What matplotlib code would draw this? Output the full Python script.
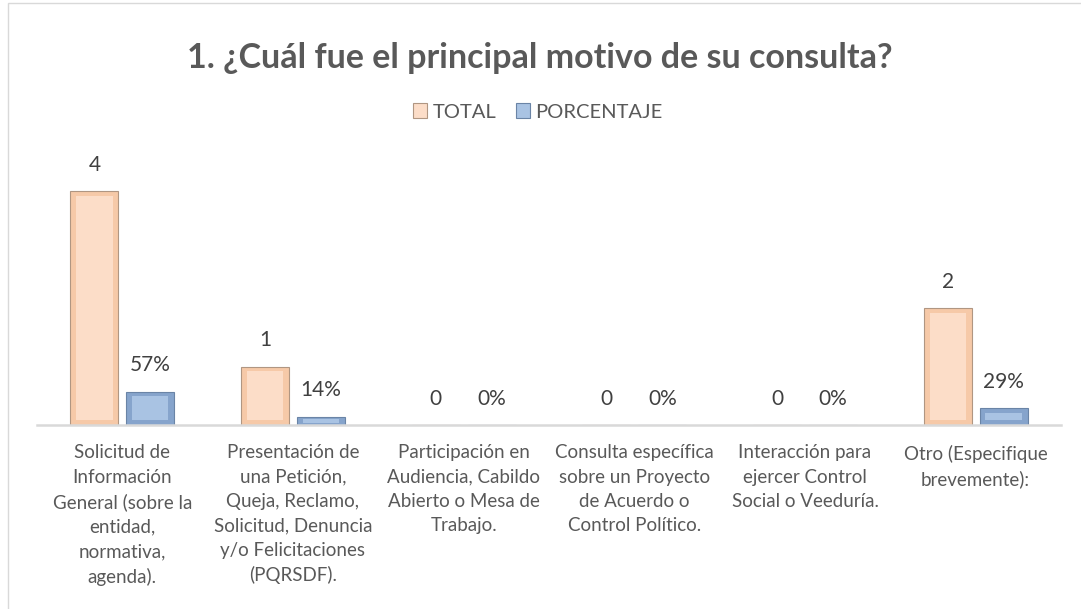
import matplotlib
matplotlib.use("Agg")
import matplotlib.pyplot as plt
from matplotlib.patches import Rectangle
import numpy as np

categories = [
    "Solicitud de\nInformación\nGeneral (sobre la\nentidad,\nnormativa,\nagenda).",
    "Presentación de\nuna Petición,\nQueja, Reclamo,\nSolicitud, Denuncia\ny/o Felicitaciones\n(PQRSDF).",
    "Participación en\nAudiencia, Cabildo\nAbierto o Mesa de\nTrabajo.",
    "Consulta específica\nsobre un Proyecto\nde Acuerdo o\nControl Político.",
    "Interacción para\nejercer Control\nSocial o Veeduría.",
    "Otro (Especifique\nbrevemente):",
]
total = [4, 1, 0, 0, 0, 2]
porcentaje = [0.57, 0.14, 0.0, 0.0, 0.0, 0.29]
porcentaje_labels = ["57%", "14%", "0%", "0%", "0%", "29%"]
series_names = ["TOTAL", "PORCENTAJE"]

plt.rcParams['font.family'] = ['Lato', 'DejaVu Sans']

W, H = 1081, 609
fig = plt.figure(figsize=(W / 100, H / 100), dpi=100)
fig.patch.set_facecolor("white")

# chart frame (left and top edges visible)
fig.add_artist(Rectangle((8 / W, -0.05), 1.2, (H - 3) / H + 0.05, transform=fig.transFigure,
                         fill=False, edgecolor="#D9D9D9", linewidth=1.0))

left, right_px = 37, 1061
base_px, top_px = 425, 160
ax = fig.add_axes([left / W, (H - base_px) / H, (right_px - left) / W, (base_px - top_px) / H])
ymax = 4 * (base_px - top_px) / (425 - 191)
ax.set_xlim(-0.5, len(categories) - 0.5)
ax.set_ylim(0, ymax)

x = np.arange(len(categories))
bw = 0.28
off = 0.164

peach_outer, peach_inner, peach_edge = "#F6C9A8", "#FCDDC8", "#B09682"
blue_outer, blue_inner, blue_edge = "#86A4CC", "#A9C3E3", "#6A84A6"

def bevel_bars(xs, vals, outer, inner, edge):
    ax.bar(xs, vals, width=bw, color=outer, edgecolor=edge, linewidth=0.8, zorder=2)
    ins_x = bw * 0.12
    ins_y = ymax * 0.018
    for xi, v in zip(xs, vals):
        if v <= 0:
            continue
        iy = min(ins_y, v * 0.3)
        ax.bar(xi, v - 2 * iy, bottom=iy, width=bw - 2 * ins_x, color=inner,
               linewidth=0, zorder=3)

bevel_bars(x - off, total, peach_outer, peach_inner, peach_edge)
bevel_bars(x + off, porcentaje, blue_outer, blue_inner, blue_edge)

lab_color = "#404040"
for xi, v in zip(x, total):
    ax.annotate(str(v), (xi - off, v), xytext=(0, 19), textcoords="offset points",
                ha="center", va="center", fontsize=15, color=lab_color)
for xi, v, s in zip(x, porcentaje, porcentaje_labels):
    ax.annotate(s, (xi + off, v), xytext=(0, 19), textcoords="offset points",
                ha="center", va="center", fontsize=15, color=lab_color)

for s in ["top", "left", "right"]:
    ax.spines[s].set_visible(False)
ax.spines["bottom"].set_color("#D9D9D9")
ax.spines["bottom"].set_linewidth(1.8)
ax.spines["bottom"].set_zorder(4)
ax.set_yticks([])
ax.set_xticks(x)
ax.set_xticklabels(categories, fontsize=13.5, color="#595959", linespacing=1.52, va="top")
ax.tick_params(axis="x", length=0, pad=14)
ax.patch.set_alpha(0)

fig.text(540 / W, 1 - 58 / H, "1. ¿Cuál fue el principal motivo de su consulta?",
         ha="center", va="center", fontsize=24.5, fontweight="bold", color="#595959")

# legend
handles = [Rectangle((0, 0), 1, 1, facecolor=peach_inner, edgecolor=peach_edge, linewidth=0.8),
           Rectangle((0, 0), 1, 1, facecolor=blue_inner, edgecolor=blue_edge, linewidth=0.8)]
fig.legend(handles, series_names, loc="center", bbox_to_anchor=(538 / W, 1 - 112 / H),
           ncol=2, frameon=False, fontsize=14.5, handlelength=0.7, handleheight=0.7,
           handletextpad=0.25, columnspacing=1.0, labelcolor="#595959")

fig.savefig("out.png", dpi=100, facecolor="white")
